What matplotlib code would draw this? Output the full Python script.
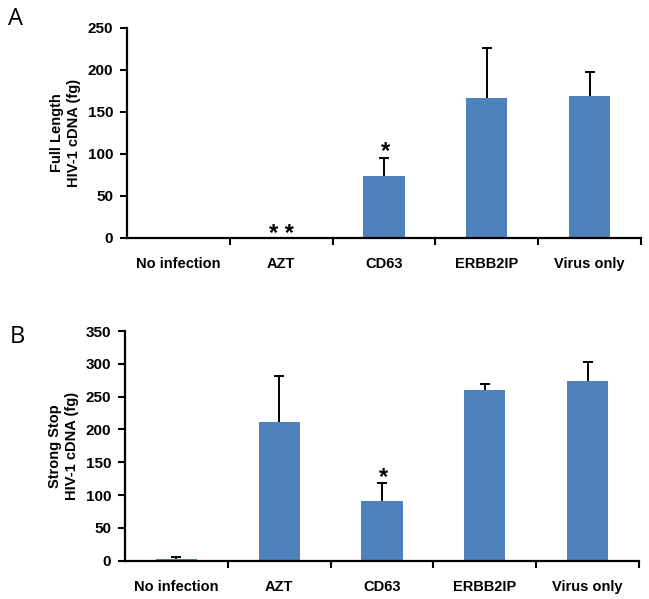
import matplotlib
matplotlib.use("Agg")
import matplotlib.pyplot as plt
import numpy as np

categories = ["No infection", "AZT", "CD63", "ERBB2IP", "Virus only"]
full_length = [0, 0, 74, 167, 168.5]
full_length_err = [0, 0, 21.5, 59, 29]
strong_stop = [2, 212, 91, 260, 274]
strong_stop_err = [3, 69.5, 27, 10, 29]
ylabels = ["Full Length\nHIV-1 cDNA (fg)", "Strong Stop\nHIV-1 cDNA (fg)"]
yticks_a = [0, 50, 100, 150, 200, 250]
yticks_b = [0, 50, 100, 150, 200, 250, 300, 350]

plt.rcParams['font.family'] = ['Liberation Sans', 'DejaVu Sans']
bar_color = "#4F81BD"

fig = plt.figure(figsize=(6.49, 5.99), dpi=100)
axA = fig.add_axes([0.1957, 0.6027, 0.792, 0.3506])
axB = fig.add_axes([0.1926, 0.064, 0.792, 0.3834])

x = np.arange(len(categories))

def style(ax, vals, errs, yticks, ylabel):
    ax.bar(x, vals, width=0.4, color=bar_color, zorder=2)
    _, caps, _ = ax.errorbar(x, vals, yerr=[np.zeros(len(errs)), errs], fmt='none',
                             ecolor='black', elinewidth=1.4, capsize=3.5, capthick=1.4, zorder=3)
    caps[0].set_visible(False)
    ax.set_xlim(-0.5, len(categories) - 0.5)
    ax.set_ylim(0, yticks[-1])
    ax.set_yticks(yticks)
    ax.set_xticks(x)
    ax.set_xticklabels(categories, fontweight='bold', fontsize=10.5)
    ax.set_xticks(np.arange(0.5, len(categories), 1), minor=True)
    ax.tick_params(axis='x', which='major', length=0, pad=14)
    ax.tick_params(axis='x', which='minor', length=5, width=1.5, direction='out')
    ax.tick_params(axis='y', length=5, width=1.5, direction='out', labelsize=11, pad=5)
    for lab in ax.get_yticklabels():
        lab.set_fontweight('bold')
    for s in ['top', 'right']:
        ax.spines[s].set_visible(False)
    for s in ['left', 'bottom']:
        ax.spines[s].set_linewidth(1.6)
    ax.set_ylabel(ylabel, fontweight='bold', fontsize=10.5, labelpad=5, linespacing=1.2)

style(axA, full_length, full_length_err, yticks_a, ylabels[0])
style(axB, strong_stop, strong_stop_err, yticks_b, ylabels[1])

# significance markers
axA.annotate("* *", xy=(1, full_length[1]), xytext=(0, -6), textcoords='offset points',
             ha='center', va='bottom', fontsize=17, fontweight='bold')
axA.annotate("*", xy=(2, full_length[2] + full_length_err[2]), xytext=(1, -4),
             textcoords='offset points', ha='center', va='bottom', fontsize=17, fontweight='bold')
axB.annotate("*", xy=(2, strong_stop[2] + strong_stop_err[2]), xytext=(1, -4),
             textcoords='offset points', ha='center', va='bottom', fontsize=17, fontweight='bold')

fig.text(0.012, 0.9583, "A", fontsize=17, family='Open Sans', va='baseline', ha='left')
fig.text(0.015, 0.4274, "B", fontsize=17, family='Open Sans', va='baseline', ha='left')

fig.savefig("out.png", dpi=100)
